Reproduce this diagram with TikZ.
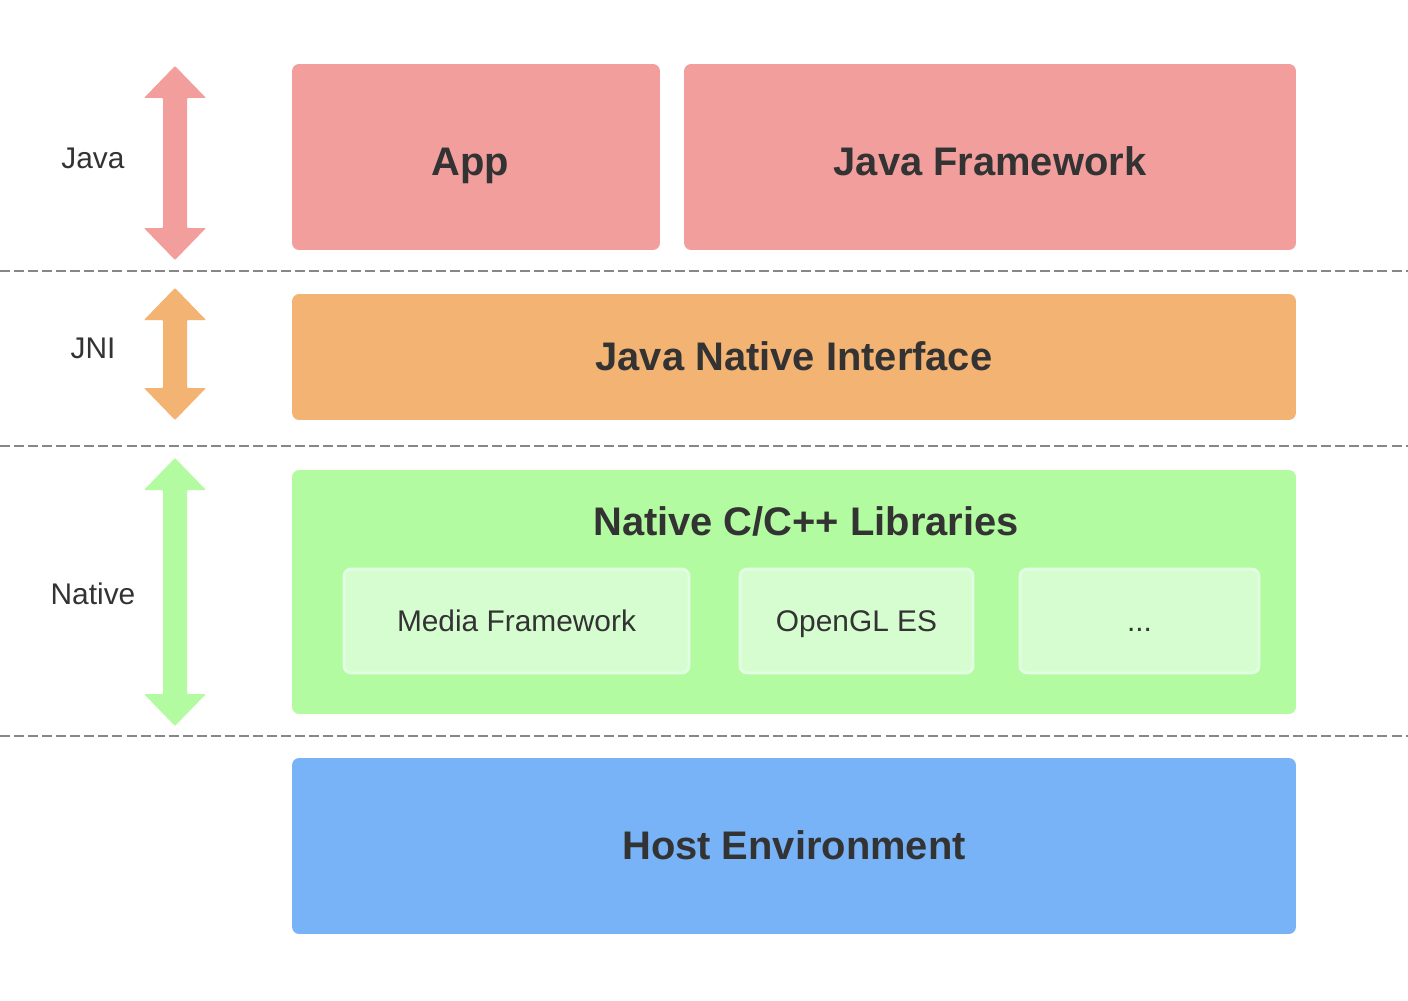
\documentclass[tikz,border=0pt]{standalone}
\usepackage{fontspec}
\setmainfont{Liberation Sans}
\usetikzlibrary{positioning}
\definecolor{javared}{HTML}{F29E9C}
\definecolor{jniorange}{HTML}{F3B373}
\definecolor{nativegreen}{HTML}{B2FBA0}
\definecolor{hostblue}{HTML}{78B2F7}
\definecolor{libfill}{HTML}{D6FDD0}
\definecolor{libedge}{HTML}{E2FFE4}
\definecolor{txt}{HTML}{333333}
\tikzset{
  layer/.style={shape=rectangle, rounded corners=4pt, inner sep=0pt, draw=none},
  libbox/.style={shape=rectangle, rounded corners=4pt, inner sep=0pt, fill=libfill, draw=libedge, line width=1.6pt,
    minimum height=2.08cm, font=\fontsize{17}{20}\selectfont, text=txt, text height=1.2em, text depth=0pt},
  title/.style={font=\fontsize{22.7}{26}\selectfont\bfseries, text=txt, text height=1.55em, text depth=0pt},
  side/.style={font=\fontsize{17}{20}\selectfont, text=txt, text height=1.2em, text depth=0pt},
  sep/.style={draw=black!47, line width=1.1pt, dash pattern=on 5.7pt off 2.3pt}
}
\newcommand{\updown}[3]{% top y, bottom y, colour
  \fill[#3, rounded corners=0.5pt] (175,#1) -- (206,#1+32) -- (187,#1+32) -- (187,#2-32) -- (206,#2-32)
    -- (175,#2) -- (144,#2-32) -- (163,#2-32) -- (163,#1+32) -- (144,#1+32) -- cycle;}
\begin{document}
\begin{tikzpicture}[x=0.02cm, y=-0.02cm]
  \useasboundingbox (0,0) rectangle (1408,1000);

  % layers
  \node[layer, fill=javared, minimum width=7.36cm, minimum height=3.72cm] (app) at (476,157) {};
  \node[title] (apptext) at (470,162) {App};
  \node[layer, fill=javared, minimum width=12.24cm, minimum height=3.72cm] (jfw) at (990,157) {};
  \node[title] (jfwtext) at (990,162) {Java Framework};

  \node[layer, fill=jniorange, minimum width=20.08cm, minimum height=2.52cm] (jni) at (794,357) {};
  \node[title] (jnitext) at (794,357) {Java Native Interface};

  \node[layer, fill=nativegreen, minimum width=20.08cm, minimum height=4.88cm] (native) at (794,592) {};
  \node[title] (nativetext) at (806,522) {Native C/C++ Libraries};
  \node[libbox, minimum width=6.9cm] (media) at (516.5,621) {Media Framework};
  \node[libbox, minimum width=4.66cm] (opengl) at (856.5,621) {OpenGL ES};
  \node[libbox, minimum width=4.78cm] (more) at (1139.5,621) {...};

  \node[layer, fill=hostblue, minimum width=20.08cm, minimum height=3.52cm] (host) at (794,846) {};
  \node[title] (hosttext) at (794,846) {Host Environment};

  % separators
  \coordinate (s1l) at (0,271);   \coordinate (s1r) at (1408,271);
  \coordinate (s2l) at (0,446);   \coordinate (s2r) at (1408,446);
  \coordinate (s3l) at (0,736);   \coordinate (s3r) at (1408,736);
  \draw[sep] (s1l) -- (s1r);
  \draw[sep] (s2l) -- (s2r);
  \draw[sep] (s3l) -- (s3r);

  % side labels and arrows
  \node[side] (javalbl) at (93,158) {Java};
  \node[side] (jnilbl) at (93,348) {JNI};
  \node[side] (nativelbl) at (93,594) {Native};
  \updown{66}{260}{javared}
  \updown{288}{420}{jniorange}
  \updown{458}{726}{nativegreen}

\end{tikzpicture}
\end{document}
